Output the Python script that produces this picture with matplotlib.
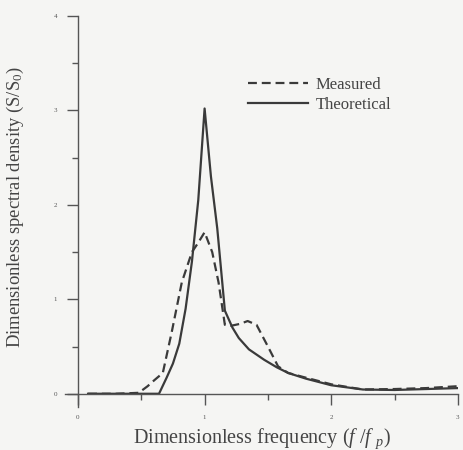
import matplotlib
matplotlib.use('Agg')
import matplotlib.pyplot as plt
from matplotlib.ticker import MultipleLocator

plt.rcParams['font.family'] = 'Liberation Serif'
plt.rcParams['mathtext.fontset'] = 'custom'
plt.rcParams['mathtext.rm'] = 'Liberation Serif'
plt.rcParams['mathtext.it'] = 'Liberation Serif:italic'

# data
f_theo = [0.08, 0.3, 0.5, 0.64, 0.7, 0.75, 0.8, 0.85, 0.9, 0.95, 1.0, 1.05, 1.1, 1.16, 1.22, 1.27,
          1.35, 1.47, 1.57, 1.66, 1.8, 2.0, 2.25, 2.5, 2.75, 3.0]
s_theo = [0.0, 0.0, 0.0, 0.0, 0.17, 0.32, 0.53, 0.9, 1.4, 2.05, 3.02, 2.3, 1.75, 0.88, 0.7, 0.59,
          0.47, 0.36, 0.28, 0.22, 0.16, 0.09, 0.045, 0.04, 0.05, 0.06]

f_meas = [0.08, 0.3, 0.48, 0.55, 0.6, 0.67, 0.74, 0.82, 0.9, 0.95, 1.0, 1.06, 1.11, 1.16, 1.21,
          1.28, 1.34, 1.41, 1.5, 1.58, 1.66, 1.8, 2.0, 2.25, 2.5, 2.75, 3.0]
s_meas = [0.0, 0.0, 0.01, 0.08, 0.14, 0.22, 0.65, 1.18, 1.5, 1.6, 1.71, 1.5, 1.18, 0.73, 0.72,
          0.74, 0.77, 0.73, 0.5, 0.29, 0.22, 0.17, 0.1, 0.045, 0.05, 0.06, 0.08]

ink = '#3a3a3a'

fig = plt.figure(figsize=(4.63, 4.5), dpi=100, facecolor='#f5f5f3')
ax = fig.add_axes([0.141, 0.0956, 0.848, 0.869])
ax.set_facecolor('none')

ax.plot(f_meas, s_meas, color=ink, lw=1.6, ls=(0, (4, 2.2)), label='Measured')
ax.plot(f_theo, s_theo, color=ink, lw=1.6, label='Theoretical')

ax.set_xlim(-0.1, 3.0)
ax.set_ylim(-0.14, 4.0)
for s in ['top', 'right']:
    ax.spines[s].set_visible(False)
ax.spines['left'].set_position(('data', 0))
ax.spines['bottom'].set_position(('data', 0))
for s in ['left', 'bottom']:
    ax.spines[s].set_color('#555555')
    ax.spines[s].set_linewidth(1.0)

ax.xaxis.set_major_locator(MultipleLocator(1))
ax.xaxis.set_minor_locator(MultipleLocator(0.5))
ax.yaxis.set_major_locator(MultipleLocator(1))
ax.yaxis.set_minor_locator(MultipleLocator(0.5))
ax.tick_params(which='major', length=8, width=1, color='#555555', labelsize=5, labelcolor='#555555', pad=7)
ax.tick_params(which='minor', length=4, width=1, color='#555555')

ax.set_xlabel('Dimensionless frequency ($f$ /$f$ $_p$)', fontsize=14.5, color='#444444')
ax.set_ylabel('Dimensionless spectral density (S/S$_0$)', fontsize=13.4, color='#444444')
ax.xaxis.set_label_coords(0.5, -0.05)
ax.yaxis.set_label_coords(-0.1, 0.512)

ax.legend(loc='upper left', bbox_to_anchor=(0.466, 0.845), frameon=False, fontsize=12,
          handlelength=3.6, handletextpad=0.45, labelspacing=0.25, borderpad=0, borderaxespad=0,
          labelcolor='#444444')

fig.savefig('out.png', dpi=100, facecolor=fig.get_facecolor())
